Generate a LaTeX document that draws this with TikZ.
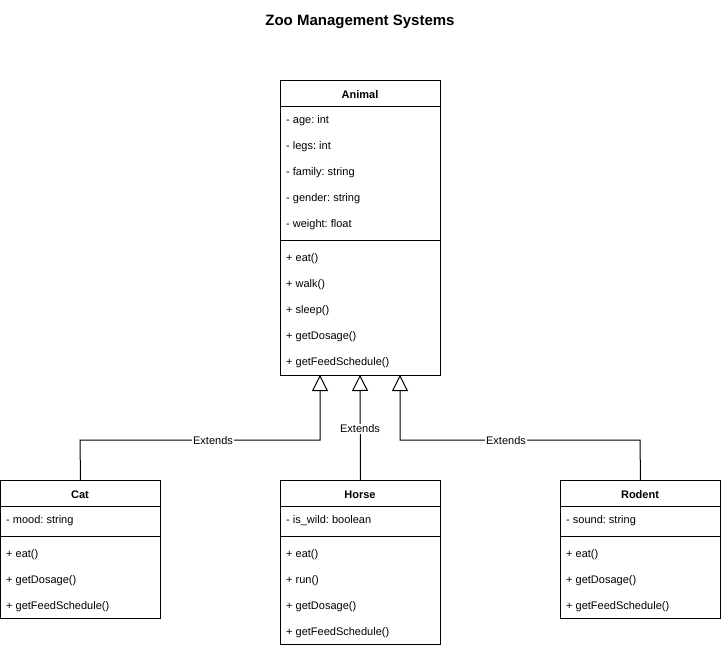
\documentclass[tikz,border=0pt]{standalone}
\usepackage{fontspec}
\setmainfont{Liberation Sans}
\usetikzlibrary{arrows.meta}
\begin{document}
\frenchspacing
\begin{tikzpicture}[x=1pt,y=-1pt,
  box/.style={draw=black,line width=1pt,fill=white},
  sep/.style={draw=black,line width=1pt},
  hdr/.style={font=\fontsize{11}{13}\selectfont\bfseries\frenchspacing,inner sep=0pt,yshift=-1.5pt},
  item/.style={font=\fontsize{11}{13}\selectfont\frenchspacing,anchor=west,inner sep=0pt,yshift=-1.5pt},
  ext/.style={draw=black,line width=1pt,-{Triangle[open,length=16pt,width=16pt,fill=white]}},
  lbl/.style={font=\fontsize{11}{13}\selectfont,fill=white,inner sep=1pt,yshift=-1pt}]
\useasboundingbox (0,0) rectangle (721,648);
\node[font=\fontsize{15}{18}\selectfont\bfseries,inner sep=0pt,yshift=-1.5pt] (title) at (360,20) {Zoo Management Systems};

% Animal
\node[box,minimum width=160pt,minimum height=295pt,anchor=north west,inner sep=0pt] (animal) at (280,80) {};
\draw[sep] (280,106) -- (440,106);
\draw[sep] (280,240) -- (440,240);
\node[hdr] (animalh) at (360,93) {Animal};
\node[item] (a1) at (286,119) {- age: int};
\node[item] (a2) at (286,145) {- legs: int};
\node[item] (a3) at (286,171) {- family: string};
\node[item] (a4) at (286,197) {- gender: string};
\node[item] (a5) at (286,223) {- weight: float};
\node[item] (a6) at (286,257) {+ eat()};
\node[item] (a7) at (286,283) {+ walk()};
\node[item] (a8) at (286,309) {+ sleep()};
\node[item] (a9) at (286,335) {+ getDosage()};
\node[item] (a10) at (286,361) {+ getFeedSchedule()};

% Cat
\node[box,minimum width=160pt,minimum height=138pt,anchor=north west,inner sep=0pt] (cat) at (0,480) {};
\draw[sep] (0,506) -- (160,506);
\draw[sep] (0,536) -- (160,536);
\node[hdr] (cath) at (80,493) {Cat};
\node[item] (c1) at (6,519) {- mood: string};
\node[item] (c2) at (6,553) {+ eat()};
\node[item] (c3) at (6,579) {+ getDosage()};
\node[item] (c4) at (6,605) {+ getFeedSchedule()};

% Horse
\node[box,minimum width=160pt,minimum height=164pt,anchor=north west,inner sep=0pt] (horse) at (280,480) {};
\draw[sep] (280,506) -- (440,506);
\draw[sep] (280,536) -- (440,536);
\node[hdr] (horseh) at (360,493) {Horse};
\node[item] (h1) at (286,519) {- is\_wild: boolean};
\node[item] (h2) at (286,553) {+ eat()};
\node[item] (h3) at (286,579) {+ run()};
\node[item] (h4) at (286,605) {+ getDosage()};
\node[item] (h5) at (286,631) {+ getFeedSchedule()};

% Rodent
\node[box,minimum width=160pt,minimum height=138pt,anchor=north west,inner sep=0pt] (rodent) at (560,480) {};
\draw[sep] (560,506) -- (720,506);
\draw[sep] (560,536) -- (720,536);
\node[hdr] (rodenth) at (640,493) {Rodent};
\node[item] (r1) at (566,519) {- sound: string};
\node[item] (r2) at (566,553) {+ eat()};
\node[item] (r3) at (566,579) {+ getDosage()};
\node[item] (r4) at (566,605) {+ getFeedSchedule()};

% connectors
\coordinate (tc) at (320,375);
\coordinate (th) at (360,375);
\coordinate (tr) at (400,375);
\coordinate (bc) at (80,440);
\coordinate (br) at (640,440);
\draw[ext] (cat.north) -- (bc) -| (tc);
\draw[ext] (horse.north) -- (th);
\draw[ext] (rodent.north) -- (br) -| (tr);
\node[lbl] (l1) at (213,440) {Extends};
\node[lbl] (l2) at (360,428) {Extends};
\node[lbl] (l3) at (506,440) {Extends};
\end{tikzpicture}
\end{document}
